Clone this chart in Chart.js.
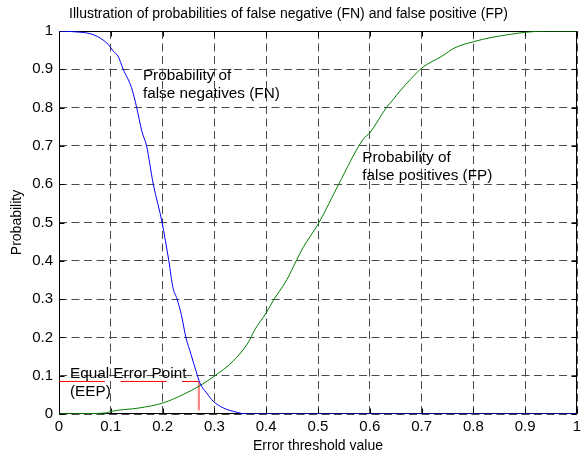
<!DOCTYPE html>
<html><head><meta charset="utf-8">
<script src="https://cdn.jsdelivr.net/npm/chart.js@4/dist/chart.umd.min.js"></script>
<style>html,body{margin:0;padding:0;background:#fff;}#wrap{width:581px;height:455px;}</style>
</head><body><div id="wrap"><canvas id="c" width="581" height="455"></canvas></div>
<script>
// ---- data ----
const fnX = [0, 0.03, 0.06, 0.075, 0.095, 0.105, 0.114, 0.124, 0.14, 0.15, 0.16, 0.169, 0.182, 0.199, 0.212, 0.22, 0.228, 0.236, 0.245, 0.255, 0.265, 0.272, 0.285, 0.298, 0.317, 0.342, 0.362, 1];
const fnY = [1, 0.998, 0.993, 0.985, 0.965, 0.947, 0.934, 0.90, 0.852, 0.80, 0.738, 0.70, 0.60, 0.50, 0.40, 0.33, 0.30, 0.26, 0.20, 0.155, 0.11, 0.081, 0.055, 0.033, 0.016, 0.005, 0, 0];
const fpX = [0, 0.05, 0.092, 0.098, 0.156, 0.201, 0.24, 0.272, 0.3, 0.336, 0.365, 0.378, 0.4, 0.414, 0.44, 0.458, 0.471, 0.502, 0.54, 0.587, 0.6, 0.632, 0.645, 0.658, 0.678, 0.701, 0.739, 0.764, 0.8, 0.838, 0.87, 0.903, 0.945, 1];
const fpY = [0, 0.001, 0.003, 0.006, 0.016, 0.029, 0.051, 0.074, 0.099, 0.138, 0.186, 0.22, 0.264, 0.297, 0.351, 0.40, 0.434, 0.50, 0.60, 0.717, 0.734, 0.80, 0.821, 0.843, 0.873, 0.904, 0.934, 0.956, 0.972, 0.984, 0.991, 0.997, 1, 1];
const eepX = 0.27;
const eepY = 0.085;
const eepFloor = 0.01;
const tickLabels = ['0','0.1','0.2','0.3','0.4','0.5','0.6','0.7','0.8','0.9','1'];
const titleText = 'Illustration of probabilities of false negative (FN) and false positive (FP)';
const xTitle = 'Error threshold value';
const yTitle = 'Probability';
const noteTexts = [
  ['Probability of', 'false negatives (FN)'],
  ['Probability of', 'false positives (FP)'],
  ['Equal Error Point', '(EEP)']
];
// annotation anchor positions (data coords: x, baseline of line 1, baseline of line 2)
const notePos = [
  [0.162, 0.8715, 0.824],
  [0.5855, 0.6585, 0.612],
  [0.0212, 0.0945, 0.0465]
];

const toPts = (xs, ys) => xs.map((x, i) => ({x: x, y: ys[i]}));
const FONT = '"Liberation Sans", Arial, sans-serif';

const framePlugin = {
  id: 'frame',
  beforeDatasetsDraw(chart) {
    const {ctx, chartArea: a, scales} = chart;
    ctx.save();
    ctx.strokeStyle = '#000';
    ctx.lineWidth = 1;
    ctx.setLineDash([]);
    const L = Math.round(a.left) + 0.5, R = Math.round(a.right) - 0.5;
    const T = Math.round(a.top) + 0.5, B = Math.round(a.bottom) - 0.5;
    ctx.beginPath();
    ctx.rect(L, T, R - L, B - T);
    const tl = 5;
    scales.x.ticks.forEach(t => {
      const px = Math.round(scales.x.getPixelForValue(t.value)) + 0.5;
      ctx.moveTo(px, B); ctx.lineTo(px, B - tl);
      ctx.moveTo(px, T); ctx.lineTo(px, T + tl);
    });
    scales.y.ticks.forEach(t => {
      const py = Math.round(scales.y.getPixelForValue(t.value)) + 0.5;
      ctx.moveTo(L, py); ctx.lineTo(L + tl, py);
      ctx.moveTo(R, py); ctx.lineTo(R - tl, py);
    });
    ctx.stroke();
    ctx.restore();
  },
  afterDraw(chart) {
    const {ctx, scales} = chart;
    ctx.save();
    ctx.fillStyle = '#000';
    ctx.font = '15.3px ' + FONT;
    ctx.textAlign = 'left';
    ctx.textBaseline = 'alphabetic';
    noteTexts.forEach((lines, i) => {
      const p = notePos[i];
      const x = scales.x.getPixelForValue(p[0]);
      lines.forEach((s, j) => {
        ctx.fillText(s, x, scales.y.getPixelForValue(p[1 + j]));
      });
    });
    ctx.restore();
  }
};

new Chart(document.getElementById('c'), {
  type: 'scatter',
  data: {
    datasets: [
      { label: 'FN', data: toPts(fnX, fnY), showLine: true, borderColor: '#0000ff', borderWidth: 1, pointRadius: 0, cubicInterpolationMode: 'monotone', order: 1 },
      { label: 'FP', data: toPts(fpX, fpY), showLine: true, borderColor: '#008000', borderWidth: 1, pointRadius: 0, cubicInterpolationMode: 'monotone', order: 2 },
      { label: 'EEP h', data: [{x: 0, y: eepY}, {x: eepX, y: eepY}], showLine: true, borderColor: '#ff0000', borderWidth: 1, borderDash: [46, 15.5], pointRadius: 0, order: 3 },
      { label: 'EEP v', data: [{x: eepX, y: eepY}, {x: eepX, y: eepFloor}], showLine: true, borderColor: 'rgba(255,40,40,0.6)', borderWidth: 2, pointRadius: 0, order: 3 }
    ]
  },
  options: {
    responsive: false,
    animation: false,
    devicePixelRatio: 1,
    layout: { padding: { left: 0, right: 4, top: 0, bottom: 0 } },
    plugins: {
      legend: { display: false },
      tooltip: { enabled: false },
      title: {
        display: true, text: titleText, color: '#000',
        font: { family: FONT, size: 14, weight: 'normal' },
        padding: { top: 5.6, bottom: 8.6 }
      }
    },
    scales: {
      x: {
        type: 'linear', min: 0, max: 1,
        afterFit(s) { s.height = 41; s.paddingLeft = 0; s.paddingRight = 0; },
        ticks: { stepSize: 0.1, color: '#000', padding: 4, maxRotation: 0, autoSkip: false,
          font: { family: FONT, size: 15 },
          callback: (v, i) => tickLabels[i] },
        grid: { color: '#4a4a4a', lineWidth: 1, drawTicks: false },
        border: { display: false, dash: [8, 4.5] },
        title: { display: true, text: xTitle, color: '#000', padding: { top: 0, bottom: 0 },
          font: { family: FONT, size: 14 } }
      },
      y: {
        type: 'linear', min: 0, max: 1,
        afterFit(s) { s.width = 59; s.paddingTop = 0; s.paddingBottom = 0; },
        ticks: { stepSize: 0.1, color: '#000', padding: 6, autoSkip: false,
          font: { family: FONT, size: 15 },
          callback: (v, i) => tickLabels[i] },
        grid: { color: '#4a4a4a', lineWidth: 1, drawTicks: false },
        border: { display: false, dash: [8, 4.5] },
        title: { display: true, text: yTitle, color: '#000', padding: { top: 9, bottom: 0 },
          font: { family: FONT, size: 14 } }
      }
    }
  },
  plugins: [framePlugin]
});
</script>
</body></html>
